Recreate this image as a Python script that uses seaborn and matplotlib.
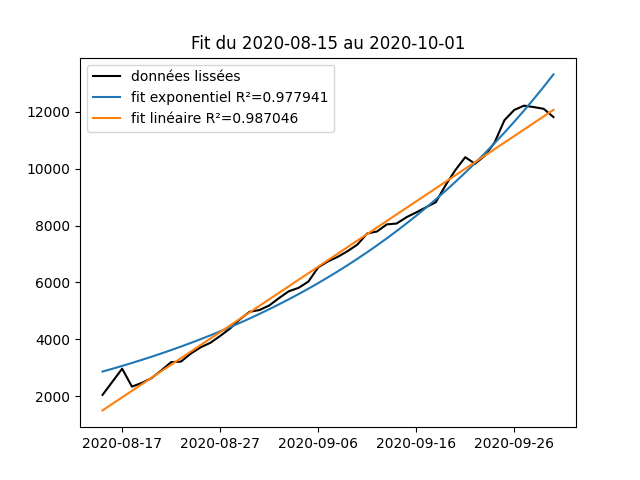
import numpy as np
import pandas as pd
import matplotlib
matplotlib.use("Agg")
import matplotlib.pyplot as plt
import matplotlib.dates as mdates
import seaborn as sns

# smoothed daily values, 2020-08-15 .. 2020-09-30
dates = pd.date_range("2020-08-15", "2020-09-30", freq="D")
smoothed = [2050, 2510, 2970, 2340, 2470, 2640, 2910, 3200, 3220, 3500,
            3720, 3880, 4120, 4380, 4700, 4970, 5030, 5190, 5450, 5690,
            5810, 6030, 6530, 6740, 6900, 7100, 7330, 7720, 7790, 8040,
            8070, 8290, 8460, 8640, 8820, 9420, 9950, 10400, 10170, 10450,
            10920, 11700, 12060, 12210, 12160, 12100, 11810]

# fit parameters (t in days from start)
exp_a, exp_k = 2870.0, 0.03335
lin_a, lin_b = 1505.0, 229.5
r2_exp = 0.977941
r2_lin = 0.987046

tick_labels = ["2020-08-17", "2020-08-27", "2020-09-06", "2020-09-16", "2020-09-26"]

t = np.arange(len(dates))
df = pd.DataFrame({
    "date": dates,
    "smoothed": smoothed,
    "exp_fit": exp_a * np.exp(exp_k * t),
    "lin_fit": lin_a + lin_b * t,
})

fig, ax = plt.subplots(figsize=(6.4, 4.8), dpi=100)
sns.lineplot(data=df, x="date", y="smoothed", color="black", label="données lissées", ax=ax)
sns.lineplot(data=df, x="date", y="exp_fit", color="C0", label="fit exponentiel R²=%g" % r2_exp, ax=ax)
sns.lineplot(data=df, x="date", y="lin_fit", color="C1", label="fit linéaire R²=%g" % r2_lin, ax=ax)

ax.set_xticks(pd.to_datetime(tick_labels))
ax.xaxis.set_major_formatter(mdates.DateFormatter("%Y-%m-%d"))
ax.set_xlabel("")
ax.set_ylabel("")
ax.set_title("Fit du 2020-08-15 au 2020-10-01")
ax.legend(loc="upper left")

fig.savefig("out.png", dpi=100)
